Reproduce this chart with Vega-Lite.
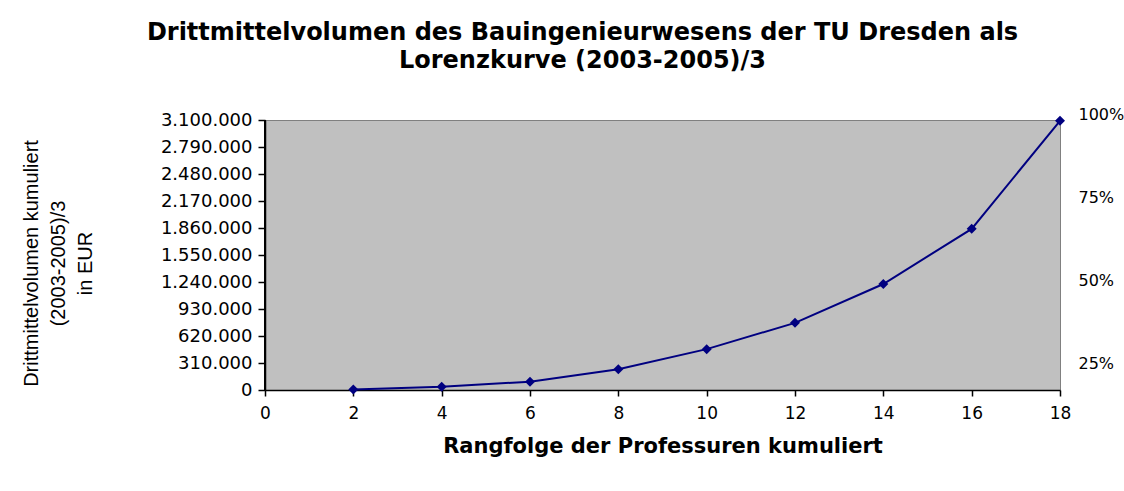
{
  "$schema": "https://vega.github.io/schema/vega-lite/v6.json",
  "width": 795,
  "height": 270,
  "autosize": {"type": "none"},
  "padding": {"left": 265, "top": 120, "right": 64, "bottom": 101},
  "background": "white",
  "config": {
    "locale": {"number": {"decimal": ",", "thousands": ".", "grouping": [3], "currency": ["", " €"]}},
    "view": {"fill": "#C0C0C0", "stroke": "#808080", "strokeWidth": 1},
    "font": "DejaVu Sans"
  },
  "title": {
    "text": ["Drittmittelvolumen des Bauingenieurwesens der TU Dresden als", "Lorenzkurve (2003-2005)/3"],
    "font": "DejaVu Sans",
    "fontSize": 24,
    "fontWeight": "bold",
    "lineHeight": 28,
    "anchor": "middle",
    "frame": "group",
    "dx": -80,
    "offset": 33,
    "color": "#000000"
  },
  "data": {
    "values": [
      {"rang": 2, "volumen": 7000, "anteil": 0.0023},
      {"rang": 4, "volumen": 38000, "anteil": 0.0123},
      {"rang": 6, "volumen": 96000, "anteil": 0.031},
      {"rang": 8, "volumen": 239000, "anteil": 0.077},
      {"rang": 10, "volumen": 469000, "anteil": 0.152},
      {"rang": 12, "volumen": 771000, "anteil": 0.25},
      {"rang": 14, "volumen": 1217000, "anteil": 0.394},
      {"rang": 16, "volumen": 1850000, "anteil": 0.599},
      {"rang": 18, "volumen": 3090000, "anteil": 1.0}
    ]
  },
  "encoding": {
    "x": {
      "field": "rang", "type": "quantitative",
      "scale": {"domain": [0, 18], "nice": false},
      "axis": {
        "values": [0, 2, 4, 6, 8, 10, 12, 14, 16, 18],
        "grid": false, "labelFlush": false,
        "domain": true, "ticks": true,
        "domainColor": "#000000", "domainWidth": 1.5,
        "tickColor": "#000000", "tickSize": 6, "tickWidth": 1.5,
        "labelPadding": 9, "labelFontSize": 17, "labelColor": "#000000",
        "labelFont": "DejaVu Sans",
        "title": "Rangfolge der Professuren kumuliert",
        "titleFont": "DejaVu Sans", "titleFontSize": 21, "titleFontWeight": "bold",
        "titleColor": "#000000", "titlePadding": 14
      }
    }
  },
  "layer": [
    {
      "mark": {"type": "point", "opacity": 0, "clip": true},
      "encoding": {
        "y": {
          "field": "anteil", "type": "quantitative",
          "scale": {"domain": [0.187, 1], "nice": false, "zero": false},
          "axis": {
            "orient": "right",
            "values": [0.25, 0.5, 0.75, 1],
            "format": ".0%",
            "grid": false, "labelFlush": false,
            "domain": false, "ticks": false,
            "labelPadding": 18, "labelOffset": -6,
            "labelFontSize": 16, "labelColor": "#000000", "labelFont": "DejaVu Sans",
            "title": null
          }
        }
      }
    },
    {
      "mark": {"type": "line", "color": "#000080", "strokeWidth": 2},
      "encoding": {
        "y": {
          "field": "volumen", "type": "quantitative",
          "scale": {"domain": [0, 3100000], "nice": false},
          "axis": {
            "orient": "left",
            "values": [0, 310000, 620000, 930000, 1240000, 1550000, 1860000, 2170000, 2480000, 2790000, 3100000],
            "format": ",d",
            "grid": false, "labelFlush": false,
            "domain": true, "ticks": true,
            "domainColor": "#000000", "domainWidth": 1.5,
            "tickColor": "#000000", "tickSize": 7, "tickWidth": 1.5,
            "labelPadding": 6, "labelFontSize": 18, "labelColor": "#000000",
            "labelFont": "DejaVu Sans",
            "title": ["Drittmittelvolumen kumuliert", "(2003-2005)/3", "in EUR"],
            "titleFont": "Liberation Sans", "titleFontSize": 20, "titleFontWeight": "normal",
            "titleColor": "#000000", "titleLineHeight": 27,
            "titleAngle": -90, "titleAlign": "center", "titleBaseline": "middle",
            "titleX": -234, "titleY": 143
          }
        }
      }
    },
    {
      "mark": {"type": "rule", "color": "#000000", "strokeWidth": 1.5},
      "encoding": {
        "x": {"datum": 0, "type": "quantitative"}
      }
    },
    {
      "mark": {"type": "point", "shape": "diamond", "filled": true, "color": "#000080", "size": 100, "opacity": 1},
      "encoding": {
        "y": {"field": "volumen", "type": "quantitative", "scale": {"domain": [0, 3100000], "nice": false}, "axis": null}
      }
    }
  ],
  "resolve": {"scale": {"y": "independent"}, "axis": {"y": "independent"}}
}
